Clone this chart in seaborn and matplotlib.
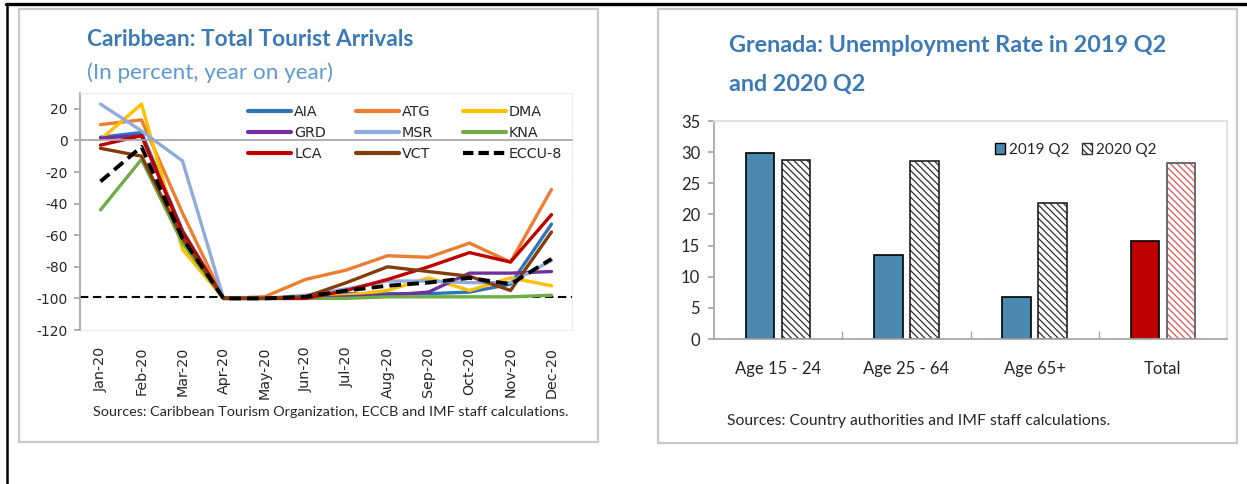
import numpy as np
import pandas as pd
import matplotlib
matplotlib.use("Agg")
import matplotlib.pyplot as plt
import seaborn as sns
from matplotlib.patches import Rectangle, Patch
from matplotlib.lines import Line2D

# ---------------- data ----------------
months = ["Jan-20", "Feb-20", "Mar-20", "Apr-20", "May-20", "Jun-20",
          "Jul-20", "Aug-20", "Sep-20", "Oct-20", "Nov-20", "Dec-20"]
AIA = [2, 5, -57, -100, -100, -99, -97, -97, -97, -96, -91, -53]
ATG = [10, 13, -46, -100, -99, -88, -82, -73, -74, -65, -77, -31]
DMA = [0.5, 23, -69, -100, -100, -99, -98, -95, -87, -95, -87, -92]
GRD = [1.5, 3, -58, -100, -100, -100, -99, -98, -96, -84, -84, -83]
MSR = [23, 6, -13, -100, -100, -98, -94, -89, -89, -90, -90, -76]
KNA = [-44, -12, -65, -100, -100, -100, -100, -99, -99, -99, -99, -98]
LCA = [-3, 3, -58, -100, -100, -100, -95, -88, -80, -71, -77, -47]
VCT = [-5, -10, -62, -100, -100, -99, -90, -80, -83, -86, -95, -58]
ECCU8 = [-26, -4, -62, -100, -100, -99, -95, -92, -90, -87, -91, -75]
ref_level = -99

series_names = ["AIA", "ATG", "DMA", "GRD", "MSR", "KNA", "LCA", "VCT"]
series_vals = [AIA, ATG, DMA, GRD, MSR, KNA, LCA, VCT]
series_colors = ["#2E75B6", "#ED7D31", "#FFC000", "#7030A0", "#8FAADC",
                 "#70AD47", "#C00000", "#843C0C"]

age_groups = ["Age 15 - 24", "Age 25 - 64", "Age 65+", "Total"]
rate_2019 = [29.8, 13.5, 6.8, 15.7]
rate_2020 = [28.8, 28.6, 21.9, 28.3]

# ---------------- style ----------------
sns.set_theme(style="white")
NARROW = "Lato"
plt.rcParams["font.family"] = ["DejaVu Sans"]
plt.rcParams["hatch.linewidth"] = 0.9
plt.rcParams["axes.unicode_minus"] = False

W, H = 1247, 484
fig = plt.figure(figsize=(W / 100, H / 100), dpi=100)
fig.patch.set_facecolor("white")

def fx(px):
    return px / W

def fy(py):
    return 1 - py / H

# frames
fig.add_artist(Line2D([fx(6), 1], [fy(4), fy(4)], color="black", lw=2.4))
fig.add_artist(Line2D([fx(7), fx(7)], [fy(4), 0], color="black", lw=1.8))
for (x0, y0, x1, y1) in [(19, 9, 598, 442), (658, 9, 1237, 443)]:
    fig.add_artist(Rectangle((fx(x0), fy(y1)), fx(x1) - fx(x0), fy(y0) - fy(y1),
                             fill=False, edgecolor="#C8C8C8", lw=1.6,
                             transform=fig.transFigure))

TITLE_BLUE = "#3C7AB6"
SUB_BLUE = "#5F99D3"
GRAY = "#A6A6A6"
LIGHT = "#E8E8E8"
TXT = "#262626"

# ---------------- left chart ----------------
axL = fig.add_axes([fx(80), fy(330), (572 - 80) / W, (330 - 93) / H])
xpos = np.arange(len(months))
long = pd.DataFrame({
    "x": np.tile(xpos, len(series_names)),
    "value": np.concatenate(series_vals),
    "series": np.repeat(series_names, len(months)),
})
axL.axhline(ref_level, color="black", lw=1.5, ls=(0, (4, 2.2)), zorder=1)
sns.lineplot(data=long, x="x", y="value", hue="series", hue_order=series_names,
             palette=series_colors, lw=2.4, ax=axL, legend=False, sort=False)
sns.lineplot(x=xpos, y=ECCU8, color="black", lw=2.8, ls=(0, (3, 1.6)), ax=axL)

axL.set_xlim(-0.5, len(months) - 0.5)
axL.set_ylim(-120, 30)
axL.set_yticks(np.arange(-120, 21, 20))
axL.set_xlabel("")
axL.set_ylabel("")
axL.spines["bottom"].set_position(("data", 0))
axL.spines["bottom"].set_color(GRAY)
axL.spines["left"].set_color(GRAY)
for s in ["top", "right"]:
    axL.spines[s].set_color(LIGHT)
    axL.spines[s].set_linestyle(":")
    axL.spines[s].set_linewidth(0.8)
axL.set_xticks(np.arange(len(months) + 1) - 0.5)
axL.tick_params(axis="x", direction="in", length=6, color=GRAY, labelbottom=False)
axL.tick_params(axis="y", direction="out", length=4, color=GRAY, labelsize=10,
                labelcolor=TXT, pad=5, left=True)
sec = axL.secondary_xaxis("bottom")
sec.set_xticks(xpos, labels=months, rotation=90, fontsize=10.3, color=TXT)
sec.tick_params(length=0, pad=12)
sec.spines["bottom"].set_color(LIGHT)
sec.spines["bottom"].set_linestyle(":")
sec.spines["bottom"].set_linewidth(0.8)

line_handles = {n: Line2D([], [], color=c, lw=3) for n, c in zip(series_names, series_colors)}
line_handles["ECCU-8"] = Line2D([], [], color="black", lw=3, ls=(0, (2.5, 1.2)))
all_labels = series_names + ["ECCU-8"]
ncol = 3
nrow = len(all_labels) // ncol
# matplotlib fills columns first; reorder so that entries read row by row
order = [all_labels[r * ncol + c] for c in range(ncol) for r in range(nrow)]
axL.legend([line_handles[k] for k in order], order, ncol=ncol, loc="upper left",
           bbox_to_anchor=(0.325, 0.985), frameon=False, fontsize=10.3,
           handlelength=3.0, handletextpad=0.2, columnspacing=2.1,
           labelspacing=0.5, borderaxespad=0.2, labelcolor=TXT)

fig.text(fx(87), fy(40), "Caribbean: Total Tourist Arrivals", family=NARROW,
         fontsize=16.3, fontweight="bold", color=TITLE_BLUE, va="center")
fig.text(fx(87), fy(73), "(In percent, year on year)", family=NARROW,
         fontsize=16.2, color=SUB_BLUE, va="center")
fig.text(fx(93), fy(412), "Sources: Caribbean Tourism Organization, ECCB and IMF staff calculations.",
         family=NARROW, fontsize=10.4, color=TXT, va="center")

# ---------------- right chart ----------------
axR = fig.add_axes([fx(714), fy(339), (1227 - 714) / W, (339 - 121) / H])
bars = pd.DataFrame({
    "group": age_groups * 2,
    "period": ["2019 Q2"] * len(age_groups) + ["2020 Q2"] * len(age_groups),
    "rate": rate_2019 + rate_2020,
})
BLUE = "#4A89B0"
RED = "#C00000"
HRED = "#E05555"
HATCH = "\\\\\\\\\\"
sns.barplot(data=bars, x="group", y="rate", hue="period", width=0.56, gap=0.21,
            palette=[BLUE, "white"], saturation=1, edgecolor="black", linewidth=1.2,
            ax=axR, legend=False, err_kws={"linewidth": 0})
c19, c20 = axR.containers[0], axR.containers[1]
c19.patches[-1].set_facecolor(RED)
for i, p in enumerate(c20.patches):
    last = i == len(c20.patches) - 1
    p.set_hatch(HATCH)
    p.set_edgecolor(HRED if last else "#303030")
    p.set_linewidth(0)
    axR.add_patch(Rectangle(p.get_xy(), p.get_width(), p.get_height(), fill=False,
                            edgecolor="#555555" if last else "#202020",
                            lw=1.2, zorder=p.get_zorder() + 0.1))

axR.set_xlim(-0.5, len(age_groups) - 0.5)
axR.set_ylim(0, 35)
axR.set_yticks(np.arange(0, 36, 5))
axR.set_xlabel("")
axR.set_ylabel("")
axR.spines["left"].set_color(GRAY)
axR.spines["bottom"].set_color(GRAY)
for s in ["top", "right"]:
    axR.spines[s].set_color("#DDDDDD")
axR.set_xticks(np.arange(len(age_groups)))
axR.set_xticklabels(age_groups, family=NARROW, fontsize=12, color=TXT)
axR.set_xticks(np.arange(len(age_groups) - 1) + 0.5, minor=True)
axR.tick_params(axis="x", which="major", length=0, pad=16)
axR.tick_params(axis="x", which="minor", direction="in", length=6, color=GRAY, bottom=True)
axR.tick_params(axis="y", direction="out", length=4, color=GRAY, left=True, pad=6)
for t in axR.get_yticklabels():
    t.set_family(NARROW)
    t.set_fontsize(12)
    t.set_color(TXT)

leg_h = [Patch(facecolor=BLUE, edgecolor="black", lw=1.0),
         Patch(facecolor="white", edgecolor="#303030", hatch=HATCH, lw=1.0)]
axR.legend(leg_h, ["2019 Q2", "2020 Q2"], ncol=2, loc="center left",
           bbox_to_anchor=(0.52, 0.867), frameon=False,
           prop={"family": NARROW, "size": 11}, handlelength=0.7,
           handleheight=0.7, handletextpad=0.25, columnspacing=0.8, labelcolor=TXT)

fig.text(fx(729), fy(45), "Grenada: Unemployment Rate in 2019 Q2", family=NARROW,
         fontsize=16.8, fontweight="bold", color=TITLE_BLUE, va="center")
fig.text(fx(729), fy(84), "and 2020 Q2", family=NARROW,
         fontsize=16.8, fontweight="bold", color=TITLE_BLUE, va="center")
fig.text(fx(727), fy(421), "Sources: Country authorities and IMF staff calculations.",
         family=NARROW, fontsize=11.3, color=TXT, va="center")

fig.savefig("out.png", dpi=100, facecolor="white")
